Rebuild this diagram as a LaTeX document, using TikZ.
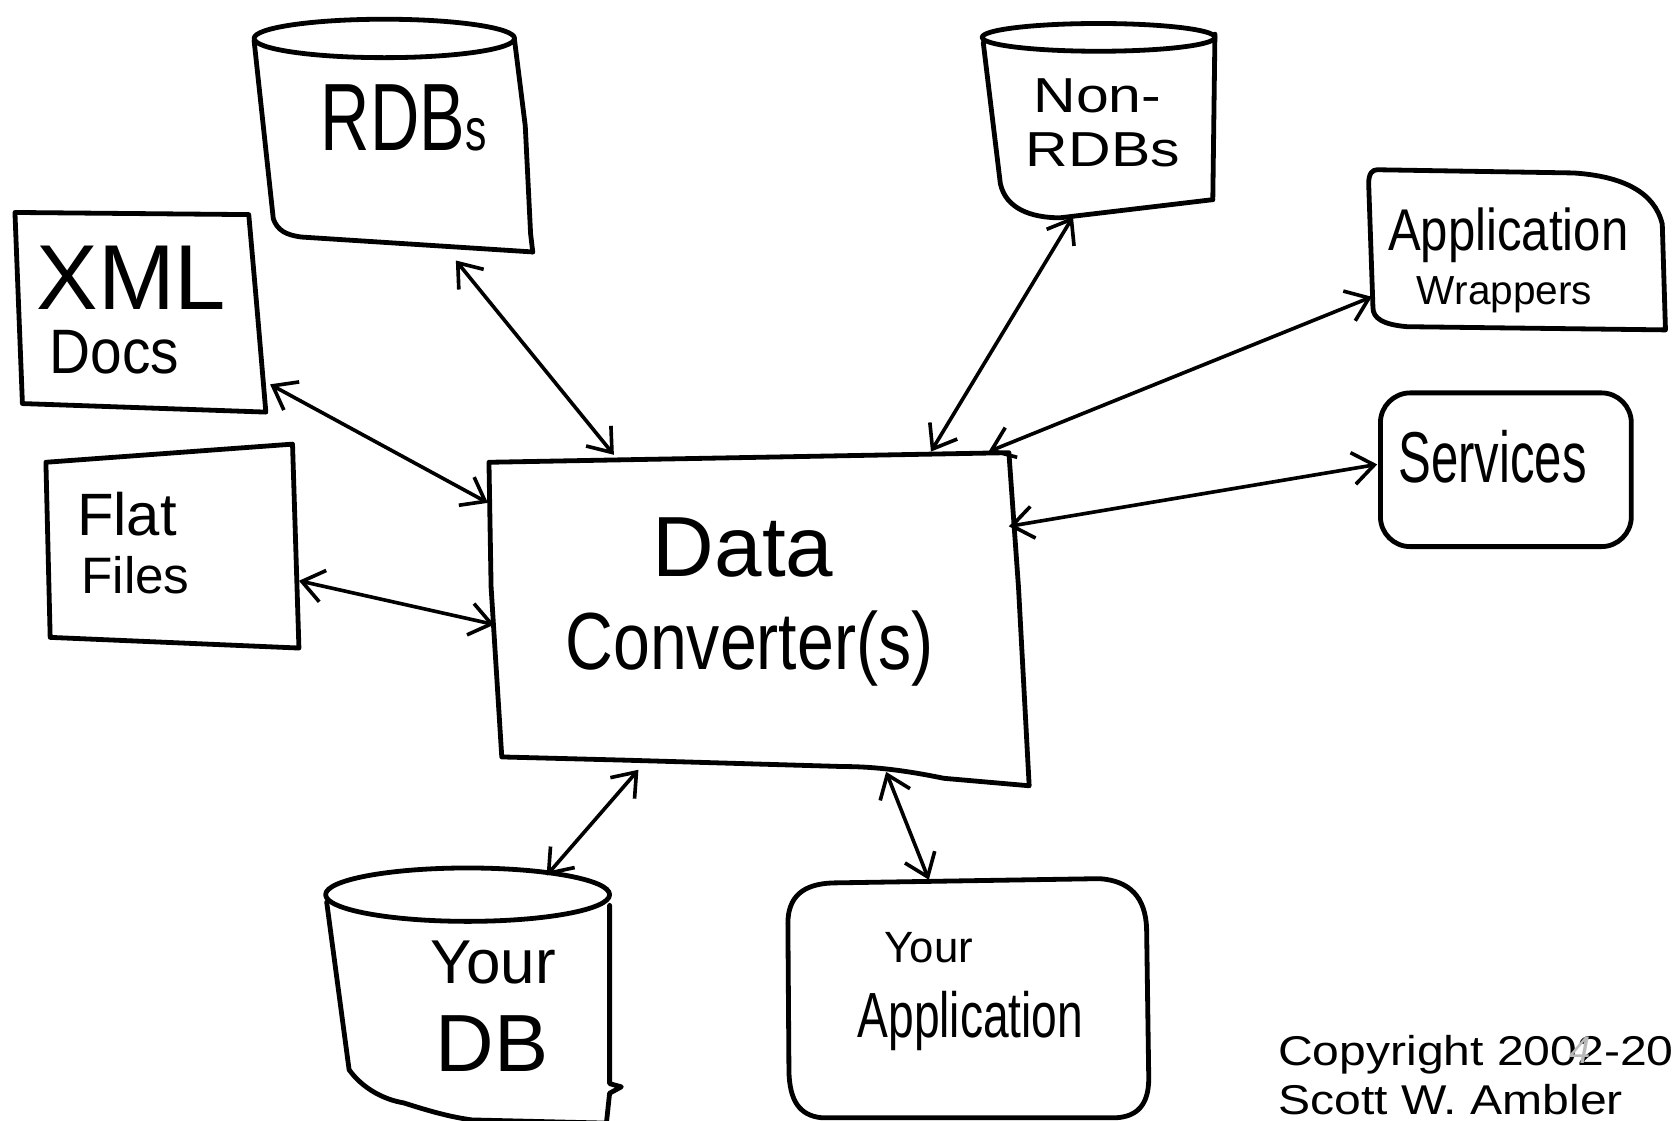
\documentclass[tikz,border=0pt]{standalone}
\usepackage{fontspec}
\setmainfont{Liberation Sans}
\usetikzlibrary{arrows.meta}
\newcommand\fsz[1]{\fontsize{#1}{#1}\selectfont}

\begin{document}
\begin{tikzpicture}[x=1pt,y=-1pt,
  outline/.style={line width=4.5pt, line join=round, line cap=round},
  link/.style={line width=3.4pt, line cap=round,
    {Straight Barb[length=20pt,width=30pt]}-{Straight Barb[length=20pt,width=30pt]}},
  lbl/.style={inner sep=0pt, anchor=base}]

\fill[white] (0,0) rectangle (1568,1050);
\useasboundingbox (0,0) rectangle (1568,1050);
\clip (0,0) rectangle (1568,1050);

% ---- RDBs cylinder
\draw[outline] (360,36) ellipse [x radius=122, y radius=18];
\draw[outline] (238,38) -- (256,205) .. controls (260,216) and (268,220) .. (282,222) -- (499,236);
\draw[outline] (482,38) -- (492,118) -- (497,219) -- (499,236);
\node[lbl] (rdbs) at (378,141) {\fsz{64}\scalebox{1}[1.4]{RDB{\fsz{40}s}}};

% ---- Non-RDBs cylinder
\draw[outline] (1029,35) ellipse [x radius=109, y radius=13];
\draw[outline] (921,40) -- (937,172) .. controls (942,195) and (965,204) .. (993,204) -- (1136,187);
\draw[outline] (1138,32) -- (1136,187);
\node[lbl] (nrdb1) at (1028,105) {\fsz{46}\scalebox{1.2}[1]{Non-}};
\node[lbl] (nrdb2) at (1033,156) {\fsz{46}\scalebox{1.2}[1]{RDBs}};

% ---- XML Docs
\draw[outline] (14,199) -- (233,201) .. controls (240,280) .. (249,386) -- (21,378) -- cycle;
\node[lbl] (xml) at (123,290) {\fsz{72}\scalebox{1.2}[1.2]{XML}};
\node[lbl] (docs) at (107,350) {\fsz{56}\scalebox{0.95}[1.05]{Docs}};

% ---- Flat Files
\draw[outline] (43,433) -- (274,416) -- (280,607) -- (47,597) -- cycle;
\node[lbl, anchor=base west] (flat) at (72,502) {\fsz{56}Flat};
\node[lbl, anchor=base west] (files) at (76,556) {\fsz{48}Files};

% ---- Data Converter(s)
\draw[outline] (458,433) -- (945,424) -- (954,550) -- (964,736) -- (884,729)
  .. controls (850,722) and (820,718) .. (790,718) -- (585,712) -- (470,709) -- (460,550) -- cycle;
\node[lbl] (data) at (696,540) {\fsz{80}Data};
\node[lbl] (conv) at (702,627) {\fsz{66}\scalebox{0.94}[1.15]{Converter(s)}};

% ---- Application Wrappers
\draw[outline] (1290,159) -- (1474,162) .. controls (1520,165) and (1550,180) .. (1557,210)
  -- (1560,309) -- (1318,306) .. controls (1295,304) and (1286,298) .. (1286,288)
  -- (1282,172) .. controls (1282,163) and (1285,159) .. (1290,159) -- cycle;
\node[lbl, anchor=base west] (appl) at (1300,235) {\fsz{46}\scalebox{1}[1.2]{Application}};
\node[lbl, anchor=base west] (wrap) at (1327,285) {\fsz{38}Wrappers};

% ---- Services
\draw[outline, rounded corners=28] (1293,368) rectangle (1528,512);
\node[lbl] (serv) at (1398,452) {\fsz{50}\scalebox{0.92}[1.35]{Services}};

% ---- Your DB cylinder
\draw[outline] (438,838) ellipse [x radius=133, y radius=25];
\draw[outline] (306,845) -- (327,1002) .. controls (340,1020) and (360,1030) .. (378,1033)
  .. controls (400,1040) and (420,1046) .. (442,1049) -- (568,1052);
\draw[outline] (571,848) -- (571,1015) -- (582,1018) -- (571,1024) -- (568,1052);
\node[lbl] (your1) at (462,921) {\fsz{58}Your};
\node[lbl] (ydb) at (461,1004) {\fsz{76}DB};

% ---- Your Application
\draw[outline] (770,1047) .. controls (748,1045) and (740,1030) .. (739,1005) -- (738,865)
  .. controls (738,840) and (752,828) .. (780,827) -- (1030,823)
  .. controls (1058,825) and (1073,840) .. (1074,870) -- (1076,1010)
  .. controls (1076,1035) and (1065,1046) .. (1045,1047) -- cycle;
\node[lbl] (your2) at (870,902) {\fsz{41}Your};
\node[lbl] (yapp) at (909,972) {\fsz{46}\scalebox{0.94}[1.3]{Application}};

% ---- connector end points
\coordinate (rdbs-s) at (427,244);   \coordinate (conv-rdbs) at (575,426);
\coordinate (xml-e) at (253,360);    \coordinate (conv-xml) at (457,471);
\coordinate (flat-e) at (280,544);   \coordinate (conv-flat) at (463,585);
\coordinate (nrdb-s) at (1005,203);  \coordinate (conv-nrdb) at (872,423);
\coordinate (wrap-w) at (1285,278);  \coordinate (conv-wrap) at (926,423);
\coordinate (serv-w) at (1290,435);  \coordinate (conv-serv) at (945,493);
\coordinate (conv-db) at (598,721);  \coordinate (db-n) at (512,820);
\coordinate (conv-app) at (830,723); \coordinate (app-n) at (870,824);

\draw[link] (rdbs-s) -- (conv-rdbs);
\draw[link] (xml-e) -- (conv-xml);
\draw[link] (flat-e) -- (conv-flat);
\draw[link] (nrdb-s) -- (conv-nrdb);
\draw[link] (wrap-w) -- (conv-wrap);
\draw[link] (serv-w) -- (conv-serv);
\draw[link] (conv-db) -- (db-n);
\draw[link] (conv-app) -- (app-n);

% ---- copyright
\node[lbl, anchor=base west] (copy1) at (1197,998) {\fsz{39}\scalebox{1.155}[1]{Copyright 2002-20}};
\node[lbl] (copy4) at (1480,996) {\fsz{36}\itshape\color{gray!55}4};
\node[lbl, anchor=base west] (copy2) at (1197,1044) {\fsz{39}\scalebox{1.155}[1]{Scott W. Ambler}};
\end{tikzpicture}
\end{document}
